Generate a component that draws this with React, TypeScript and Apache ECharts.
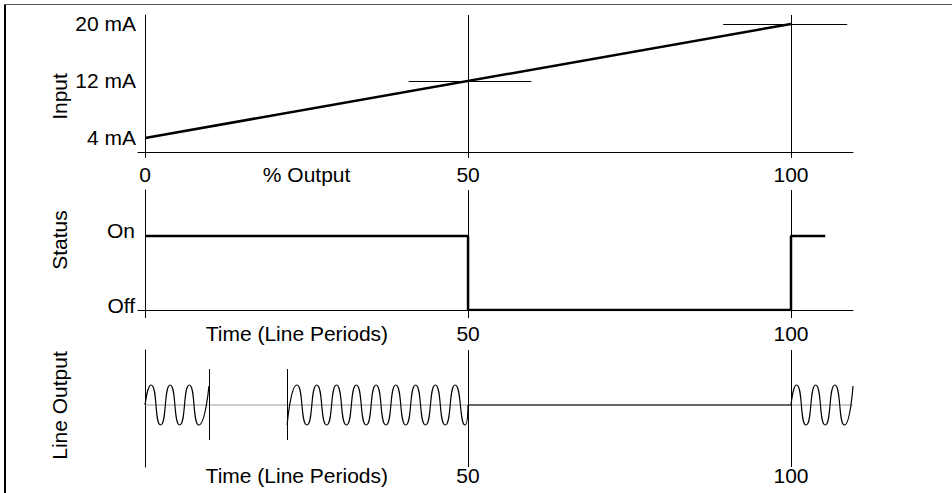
import React, { useEffect, useRef } from "react";
import * as echarts from "echarts";

// ---- data ----
const outputTicks = [0, 50, 100];               // % Output / time ticks
const markerTimes = [50, 100];                  // reference verticals
const inputTicks = [4, 12, 20];                 // mA
const inputLine = [[0, 4], [100, 20]];          // % output -> mA
const crossSeg12 = [[40.8, 12], [59.8, 12]];    // cross at 50 % / 12 mA
const crossSeg20 = [[89.5, 20], [108.7, 20]];   // cross at 100 % / 20 mA
const statusLabels = ["Off", "On"];
const statusSteps = [[0, 1], [50, 0], [100, 1], [105.3, 1]];
const wave1 = [[0, 0], [0.93, 1], [2.41, -1], [3.89, 1], [5.37, -1], [6.86, 1], [8.34, -1], [9.9, 0.95]];
const wave2 = [
  [22.0, -1], [23.53, 1], [25.06, -1], [26.59, 1], [28.12, -1], [29.65, 1], [31.18, -1],
  [32.71, 1], [34.24, -1], [35.77, 1], [37.3, -1], [38.83, 1], [40.36, -1], [41.89, 1],
  [43.42, -1], [44.95, 1], [46.48, -1], [48.01, 1], [49.54, -1], [50, 0],
];
const wave3 = [[100, 0], [100.85, 1], [102.33, -1], [103.82, 1], [105.3, -1], [106.79, 1], [108.27, -1], [109.6, 0.95]];
const lineBase = [[0, 0], [109.6, 0]];
const lineOff = [[50, 0], [100, 0]];
const burstEdges = [9.9, 22.0];

const FONT = "Liberation Sans, Arial, sans-serif";
const BLACK = "#000";

const labelStyle = { color: BLACK, fontSize: 21, fontFamily: FONT };

function vMarks(xs: number[]) {
  return xs.map((x) => ({ xAxis: x }));
}

export default function App() {
  const ref = useRef<HTMLDivElement>(null);
  useEffect(() => {
    if (!ref.current) return;
    const chart = echarts.init(ref.current, undefined, { renderer: "svg" });
    const markLineBase = {
      silent: true,
      symbol: "none",
      label: { show: false },
      emphasis: { disabled: true },
      lineStyle: { color: BLACK, width: 1, type: "solid" },
      animation: false,
    };
    const nameCommon = (gap: number, padding: number[]) => ({
      nameLocation: "middle",
      nameGap: gap,
      nameMoveOverlap: false,
      nameTextStyle: { ...labelStyle, padding },
    });
    const option: any = {
      animation: false,
      backgroundColor: "#fff",
      textStyle: { fontFamily: FONT },
      graphic: [
        { type: "line", shape: { x1: 5, y1: 4, x2: 5, y2: 493 }, style: { stroke: BLACK, lineWidth: 2 } },
        { type: "line", shape: { x1: 4, y1: 4.5, x2: 952, y2: 4.5 }, style: { stroke: "#555", lineWidth: 1 } },
      ],
      grid: [
        { left: 138, right: 99, top: 15, height: 137, outerBoundsMode: "none" },
        { left: 138, right: 99, top: 190, height: 120, outerBoundsMode: "none" },
        { left: 145, right: 99, top: 350, height: 117, outerBoundsMode: "none" },
      ],
      xAxis: [
        {
          gridIndex: 0, type: "value", min: -1.1, max: 109.6,
          axisLine: { show: true, onZero: false, lineStyle: { color: BLACK, width: 1 } },
          axisTick: { show: true, customValues: outputTicks, length: 6, lineStyle: { color: BLACK, width: 1 } },
          axisLabel: {
            ...labelStyle, margin: 12, customValues: [0, 25, 50, 100],
            formatter: (v: number) => (v === 25 ? "% Output" : String(v)),
          },
          splitLine: { show: false },
        },
        {
          gridIndex: 1, type: "value", min: -1.1, max: 109.6,
          axisLine: { show: true, onZero: false, lineStyle: { color: BLACK, width: 1 } },
          axisTick: { show: true, customValues: outputTicks, length: 8, lineStyle: { color: BLACK, width: 1 } },
          axisLabel: {
            ...labelStyle, margin: 13, customValues: [23.5, 50, 100],
            formatter: (v: number) => (v === 23.5 ? "Time (Line Periods)" : String(v)),
          },
          splitLine: { show: false },
        },
        {
          gridIndex: 2, type: "value", min: 0, max: 109.6,
          axisLine: { show: false, onZero: false },
          axisTick: { show: false },
          axisLabel: {
            ...labelStyle, margin: -2, customValues: [23.5, 50, 100],
            formatter: (v: number) => (v === 23.5 ? "Time (Line Periods)" : String(v)),
          },
          splitLine: { show: false },
        },
      ],
      yAxis: [
        {
          gridIndex: 0, type: "value", min: 2.03, max: 21.26,
          axisLine: { show: true, onZero: true, lineStyle: { color: BLACK, width: 1 } },
          axisTick: { show: false },
          axisLabel: { ...labelStyle, margin: 2, customValues: inputTicks, formatter: (v: number) => `${v} mA` },
          splitLine: { show: false },
          name: "Input", ...nameCommon(68, [0, 26, 0, 0]),
        },
        {
          gridIndex: 1, type: "value", min: 0, max: 1.62,
          axisLine: { show: true, onZero: true, lineStyle: { color: BLACK, width: 1 } },
          axisTick: { show: false },
          axisLabel: {
            ...labelStyle, margin: 3, customValues: [0, 1], verticalAlign: "bottom", lineHeight: 10,
            formatter: (v: number) => statusLabels[v] ?? "",
          },
          splitLine: { show: false },
          name: "Status", ...nameCommon(68, [0, 0, 0, 20]),
        },
        {
          gridIndex: 2, type: "value", min: -3.1, max: 2.75,
          axisLine: { show: true, onZero: true, lineStyle: { color: BLACK, width: 1 } },
          axisTick: { show: false },
          axisLabel: { show: false },
          splitLine: { show: false },
          name: "Line Output", ...nameCommon(75, [0, 0, 0, 6]),
        },
      ],
      series: [
        {
          type: "line", xAxisIndex: 0, yAxisIndex: 0, data: inputLine, symbol: "none",
          lineStyle: { color: BLACK, width: 2.5 }, silent: true,
          markLine: {
            ...markLineBase,
            data: [
              ...vMarks(markerTimes),
              [{ coord: crossSeg12[0] }, { coord: crossSeg12[1] }],
              [{ coord: crossSeg20[0] }, { coord: crossSeg20[1] }],
            ],
          },
        },
        {
          type: "line", xAxisIndex: 1, yAxisIndex: 1, data: statusSteps, step: "end", symbol: "none",
          lineStyle: { color: BLACK, width: 2.5 }, silent: true,
          markLine: { ...markLineBase, data: vMarks(markerTimes) },
        },
        {
          type: "line", xAxisIndex: 2, yAxisIndex: 2, data: lineBase, symbol: "none",
          lineStyle: { color: "#999", width: 1 }, silent: true,
        },
        {
          type: "line", xAxisIndex: 2, yAxisIndex: 2, data: lineOff, symbol: "none",
          lineStyle: { color: BLACK, width: 1 }, silent: true,
          markLine: {
            ...markLineBase,
            data: [
              ...vMarks(markerTimes),
              ...burstEdges.map((x) => [{ coord: [x, 1.8] }, { coord: [x, -1.75] }]),
            ],
          },
        },
        ...[wave1, wave2, wave3].map((w) => ({
          type: "line", xAxisIndex: 2, yAxisIndex: 2, data: w, symbol: "none", smooth: 0.65,
          lineStyle: { color: BLACK, width: 1.2 }, silent: true,
        })),
      ],
    };
    chart.setOption(option);
    return () => chart.dispose();
  }, []);
  return (
    <div
      ref={ref}
      style={{ position: "fixed", left: 0, top: 0, width: 952, height: 493, background: "#fff" }}
    />
  );
}
